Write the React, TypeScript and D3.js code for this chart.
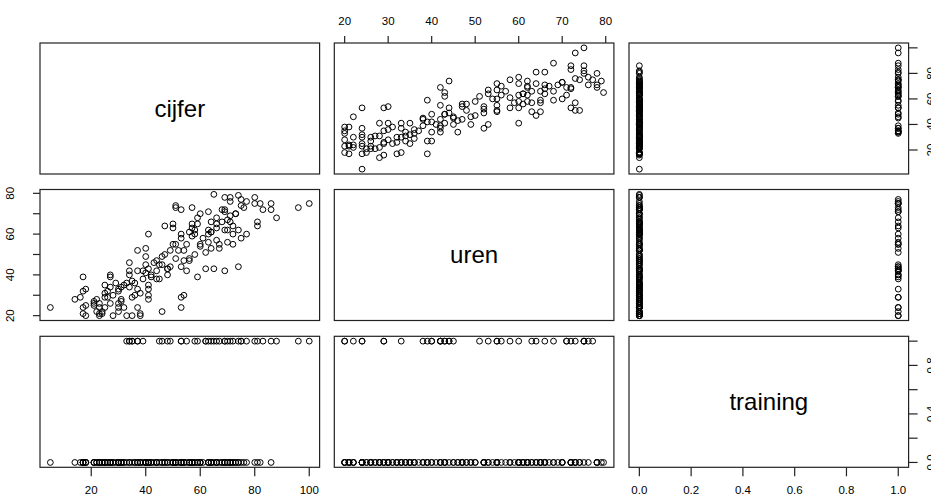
import React from 'react'
import * as d3 from 'd3'

// scatterplot matrix (R pairs() style) of cijfer / uren / training

const varNames = ['cijfer', 'uren', 'training']

const cijfer = [
  5, 14, 16, 17, 17, 18, 17, 17, 18, 18, 21, 21, 21, 22, 23, 23, 23, 23, 25, 25,
  24, 25, 26, 27, 27, 27, 30, 30, 30, 31, 32, 31, 32, 34, 34, 34, 35, 34, 35, 33,
  35, 37, 37, 37, 38, 38, 39, 39, 40, 40, 41, 41, 41, 41, 41, 42, 42, 43, 44, 45,
  46, 46, 46, 47, 47, 48, 48, 49, 49, 50, 50, 51, 51, 51, 53, 53, 53, 53, 54, 53,
  54, 55, 55, 56, 57, 57, 58, 58, 59, 60, 62, 62, 63, 63, 63, 64, 64, 65, 65, 66,
  66, 66, 67, 67, 69, 69, 69, 69, 70, 71, 71, 71, 72, 72, 74, 74, 75, 75, 74, 75,
  77, 77, 80, 81, 81, 82, 83, 86, 86, 88, 96, 100,
  22, 26, 28, 29, 36, 40, 44, 52, 56, 59, 61, 64, 68, 70, 73, 60, 44, 36,
  28, 24, 30, 27, 31, 25, 38, 30, 41, 33, 45, 37, 48, 40, 56, 51, 58, 54,
  60, 63, 66, 57, 64, 69, 72, 70, 59, 73, 68, 76, 71, 80, 53, 50, 57
]

const uren = [
  24, 28, 29, 39, 32, 33, 24, 21, 20, 25, 27, 26, 25, 28, 26, 24, 21, 20, 35, 31,
  22, 24, 32, 39, 40, 34, 22, 32, 26, 27, 24, 34, 35, 40, 46, 42, 37, 34, 29, 20,
  20, 24, 52, 33, 20, 21, 38, 42, 53, 49, 43, 60, 33, 30, 28, 40, 39, 46, 42, 45,
  22, 49, 45, 64, 50, 40, 43, 52, 44, 65, 63, 74, 73, 55, 72, 60, 58, 29, 30, 24,
  47, 55, 42, 48, 73, 63, 62, 60, 39, 70, 51, 43, 62, 60, 71, 66, 53, 79.5, 43, 68,
  63, 65, 55, 53, 72, 71, 42, 78, 56, 69, 66, 78, 60, 55, 62, 79, 77, 74, 44, 58,
  76, 60, 75, 64, 66, 75, 72, 75, 72, 68, 73, 75,
  22, 29, 30, 36, 30, 41, 47, 52, 61, 65, 58, 61, 66, 62, 70, 55, 38, 36,
  20, 21, 24, 26, 28, 29, 31, 33, 35, 36, 38, 42, 43, 45, 47, 48, 50, 52,
  54, 56, 57, 59, 61, 62, 64, 67, 68, 70, 72, 73, 76, 78, 44, 55, 65
]

const training = [
  0, 0, 0, 0, 0, 0, 0, 0, 0, 0, 0, 0, 0, 0, 0, 0, 0, 0, 0, 0,
  0, 0, 0, 0, 0, 0, 0, 0, 0, 0, 0, 0, 0, 1, 0, 1, 0, 0, 1, 1,
  1, 1, 0, 1, 0, 0, 1, 0, 0, 0, 0, 0, 0, 0, 0, 0, 0, 0, 0, 1,
  1, 0, 0, 0, 0, 1, 0, 0, 1, 0, 0, 0, 0, 0, 0, 0, 0, 1, 0, 1,
  0, 0, 1, 0, 0, 0, 0, 1, 1, 0, 1, 1, 0, 0, 1, 0, 1, 0, 1, 0,
  1, 0, 1, 0, 0, 1, 1, 0, 1, 0, 1, 0, 0, 1, 0, 0, 1, 0, 1, 1,
  1, 0, 1, 1, 0, 0, 1, 1, 0, 1, 1, 1,
  0, 0, 0, 0, 0, 0, 0, 0, 0, 0, 0, 0, 0, 0, 0, 0, 0, 0,
  0, 0, 0, 0, 0, 0, 0, 0, 0, 0, 0, 0, 0, 0, 0, 0, 0, 0,
  0, 0, 0, 0, 0, 0, 0, 0, 0, 0, 0, 0, 0, 0, 0, 0, 0
]

const cijferTicks = [20, 40, 60, 80, 100]
const urenTicks = [20, 30, 40, 50, 60, 70, 80]
const trainingTicks = [0, 0.2, 0.4, 0.6, 0.8, 1]

const W = 931, H = 495
const colLeft = [40, 334.3, 629]
const rowTop = [43, 189.5, 336.3]
const pw = 279.6, ph = 131
const fontFam = '"Liberation Sans", Arial, Helvetica, sans-serif'
const tickFs = 11.5

const columns = [cijfer, uren, training]
const tickSets = [cijferTicks, urenTicks, trainingTicks]
const fmts = [(v: number) => String(v), (v: number) => String(v), d3.format('.1f')]

// R style range: data extent padded by 4%
function padded(vals: number[]) {
  const [lo, hi] = d3.extent(vals) as [number, number]
  const p = (hi - lo) * 0.04
  return [lo - p, hi + p]
}

// rough label width, used to drop overlapping labels the way R's axis does
function labelW(s: string) {
  let w = 0
  for (const ch of s) w += ch === '.' ? 0.278 : 0.556
  return w * tickFs
}

function keepLabels(ticks: number[], pos: (v: number) => number, fmt: (v: number) => string) {
  const gap = 0.833 * tickFs
  const out: boolean[] = []
  let lastEdge: number | null = null
  const dir = pos(ticks[ticks.length - 1]) > pos(ticks[0]) ? 1 : -1
  ticks.forEach(t => {
    const c = pos(t), half = labelW(fmt(t)) / 2
    if (lastEdge === null || Math.abs(c - lastEdge) >= half + gap) {
      out.push(true)
      lastEdge = c + dir * half
    } else out.push(false)
  })
  return out
}

export default function App() {
  const xs = columns.map((v, j) => d3.scaleLinear().domain(padded(v)).range([colLeft[j], colLeft[j] + pw]))
  const ys = columns.map((v, i) => d3.scaleLinear().domain(padded(v)).range([rowTop[i] + ph, rowTop[i]]))

  const panels: React.ReactNode[] = []
  for (let i = 0; i < 3; i++) {
    for (let j = 0; j < 3; j++) {
      const x0 = colLeft[j], y0 = rowTop[i]
      let inner: React.ReactNode
      if (i === j) {
        inner = (
          <text x={x0 + pw / 2} y={y0 + ph / 2} dy="0.35em" textAnchor="middle"
            fontSize={24} fontFamily={fontFam} fill="#000">{varNames[i]}</text>
        )
      } else {
        const xv = columns[j], yv = columns[i]
        inner = xv.map((v, k) => (
          <circle key={k} cx={xs[j](v)} cy={ys[i](yv[k])} r={2.9}
            fill="none" stroke="#000" strokeWidth={1} />
        ))
      }
      panels.push(
        <g key={`p${i}${j}`}>
          {inner}
          <rect x={x0} y={y0} width={pw} height={ph} fill="none" stroke="#222" strokeWidth={1.2} />
        </g>
      )
    }
  }

  const axes: React.ReactNode[] = []
  // x axes: top for the middle column, bottom for the outer ones
  for (let j = 0; j < 3; j++) {
    const top = j === 1
    const sc = xs[j], ticks = tickSets[j], fmt = fmts[j]
    const yEdge = top ? rowTop[0] : rowTop[2] + ph
    const len = top ? -7 : 9
    const keep = keepLabels(ticks, sc, fmt)
    axes.push(
      <g key={`xa${j}`}>
        {ticks.map((t, k) => (
          <g key={k}>
            <line x1={sc(t)} x2={sc(t)} y1={yEdge} y2={yEdge + len} stroke="#222" strokeWidth={1.2} />
            {keep[k] && (
              <text x={sc(t)} y={top ? 25 : 494} textAnchor="middle" fontSize={tickFs}
                fontFamily={fontFam} fill="#000">{fmt(t)}</text>
            )}
          </g>
        ))}
      </g>
    )
  }
  // y axes: left for the middle row, right for the outer ones
  for (let i = 0; i < 3; i++) {
    const left = i === 1
    const sc = ys[i], ticks = tickSets[i], fmt = fmts[i]
    const xEdge = left ? colLeft[0] : colLeft[2] + pw
    const len = left ? -7 : 9
    const keep = keepLabels(ticks, sc, fmt)
    const lx = left ? 10 : 931
    axes.push(
      <g key={`ya${i}`}>
        {ticks.map((t, k) => (
          <g key={k}>
            <line x1={xEdge} x2={xEdge + len} y1={sc(t)} y2={sc(t)} stroke="#222" strokeWidth={1.2} />
            {keep[k] && (
              <text transform={`translate(${lx},${sc(t)}) rotate(-90)`} dy="0.35em" textAnchor="middle"
                fontSize={tickFs} fontFamily={fontFam} fill="#000">{fmt(t)}</text>
            )}
          </g>
        ))}
      </g>
    )
  }

  return (
    <svg width={W} height={H} style={{ position: 'absolute', left: 0, top: 0, background: '#fff' }}>
      <rect width={W} height={H} fill="#fff" />
      {panels}
      {axes}
    </svg>
  )
}
